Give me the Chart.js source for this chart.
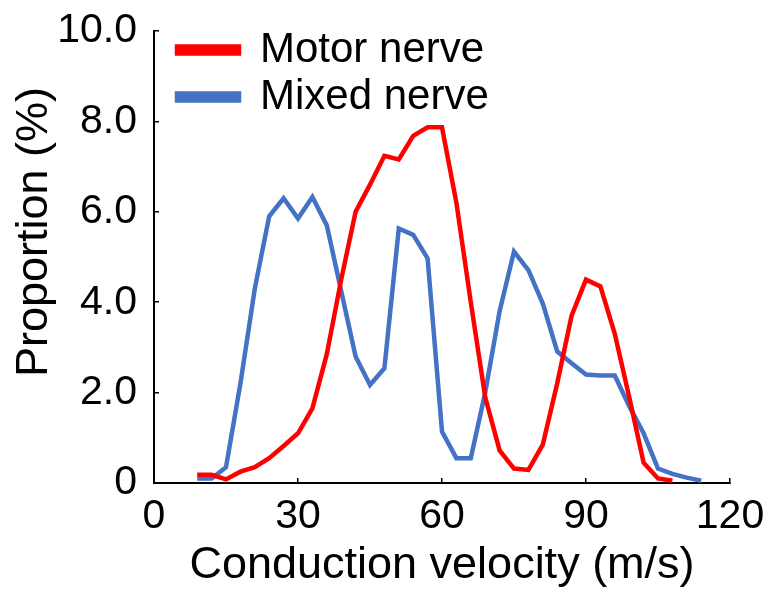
<!DOCTYPE html>
<html>
<head>
<meta charset="utf-8">
<script src="https://cdn.jsdelivr.net/npm/chart.js@4.4.1/dist/chart.umd.min.js"></script>
<style>
  html, body { margin: 0; padding: 0; background: #fff; }
  #wrap { width: 767px; height: 595px; }
</style>
</head>
<body>
<div id="wrap"><canvas id="nerveChart"></canvas></div>
<script>
// conduction velocity bins (m/s)
const velocity = [9, 12, 15, 18, 21, 24, 27, 30, 33, 36, 39, 42, 45, 48, 51, 54, 57, 60,
                  63, 66, 69, 72, 75, 78, 81, 84, 87, 90, 93, 96, 99, 102, 105, 108, 111, 114]

// proportion (%) per bin
const motorNerve = [0.18, 0.18, 0.08, 0.25, 0.35, 0.55, 0.82, 1.1, 1.65, 2.85, 4.5, 6.0, 6.6, 7.24, 7.16, 7.68, 7.87, 7.87,
                    6.2, 4.0, 1.9, 0.72, 0.32, 0.29, 0.85, 2.2, 3.7, 4.5, 4.35, 3.3, 1.9, 0.45, 0.1, 0.05, null, null]
const mixedNerve = [0.1, 0.1, 0.35, 2.2, 4.3, 5.9, 6.3, 5.85, 6.33, 5.7, 4.25, 2.8, 2.17, 2.54, 5.63, 5.49, 4.97, 1.14,
                    0.55, 0.55, 2.0, 3.8, 5.12, 4.71, 3.97, 2.91, 2.65, 2.4, 2.38, 2.38, 1.7, 1.1, 0.32, 0.2, 0.12, 0.05]

const xTicks = [0, 30, 60, 90, 120]
const yTicks = [0, 2, 4, 6, 8, 10]

const seriesNames = ['Motor nerve', 'Mixed nerve']
const seriesColors = ['#ff0000', '#4472c4']

const FONT = "'Liberation Sans', Arial, sans-serif"

function toPoints(values) {
    return velocity.map((v, i) => ({ x: v, y: values[i] }))
}

// legend sits inside the plot, top-left
const legendPlace = {
    id: 'legendPlace',
    afterLayout(chart) {
        const area = chart.chartArea
        chart.legend.left = area.left + 18
        chart.legend.top = area.top - 7
    }
}

// rotated y title
const yTitle = {
    id: 'yTitle',
    afterDraw(chart) {
        const ctx = chart.ctx
        ctx.save()
        ctx.translate(35, 232)
        ctx.rotate(-Math.PI / 2)
        ctx.font = '45px ' + FONT
        ctx.fillStyle = '#000'
        ctx.textAlign = 'center'
        ctx.textBaseline = 'middle'
        ctx.fillText('Proportion (%)', 0, 0)
        ctx.restore()
    }
}

const ctx = document.getElementById('nerveChart')
const myChart = new Chart(ctx, {
    type: 'line',
    data: {
        datasets: [
            {
                label: seriesNames[0],
                data: toPoints(motorNerve),
                borderColor: seriesColors[0],
                backgroundColor: seriesColors[0],
                borderWidth: 4.5,
                pointRadius: 0,
                tension: 0
            },
            {
                label: seriesNames[1],
                data: toPoints(mixedNerve),
                borderColor: seriesColors[1],
                backgroundColor: seriesColors[1],
                borderWidth: 4.5,
                pointRadius: 0,
                tension: 0
            }
        ]
    },
    options: {
        responsive: true,
        maintainAspectRatio: false,
        animation: false,
        layout: { padding: { left: 0, top: 31, right: 37, bottom: 0 } },
        plugins: {
            tooltip: { enabled: false },
            legend: {
                position: 'chartArea',
                align: 'start',
                labels: {
                    boxWidth: 62,
                    boxHeight: 7,
                    padding: 5,
                    color: '#000',
                    font: { family: FONT, size: 42 }
                }
            }
        },
        scales: {
            x: {
                type: 'linear',
                min: 0,
                max: 120,
                afterFit(scale) {
                    scale.height = 112
                    scale.paddingLeft = 0
                    scale.paddingRight = 0
                },
                afterBuildTicks(scale) { scale.ticks = xTicks.map(v => ({ value: v })) },
                border: { color: '#000', width: 2 },
                grid: { drawOnChartArea: false, tickLength: -5, color: '#000', lineWidth: 1.5 },
                ticks: {
                    color: '#000',
                    padding: 14,
                    maxRotation: 0,
                    font: { family: FONT, size: 41 }
                },
                title: {
                    display: true,
                    text: 'Conduction velocity (m/s)',
                    color: '#000',
                    padding: { top: 0, bottom: 2 },
                    font: { family: FONT, size: 45 }
                }
            },
            y: {
                min: 0,
                max: 10,
                afterFit(scale) {
                    scale.width = 154
                    scale.paddingTop = 0
                    scale.paddingBottom = 0
                },
                afterBuildTicks(scale) { scale.ticks = yTicks.map(v => ({ value: v })) },
                border: { color: '#000', width: 2 },
                grid: { drawOnChartArea: false, tickLength: -5, color: '#000', lineWidth: 1.5 },
                ticks: {
                    color: '#000',
                    padding: 22,
                    font: { family: FONT, size: 41 },
                    callback: (v) => v === 0 ? '0' : v.toFixed(1)
                }
            }
        }
    },
    plugins: [legendPlace, yTitle]
})
</script>
</body>
</html>
